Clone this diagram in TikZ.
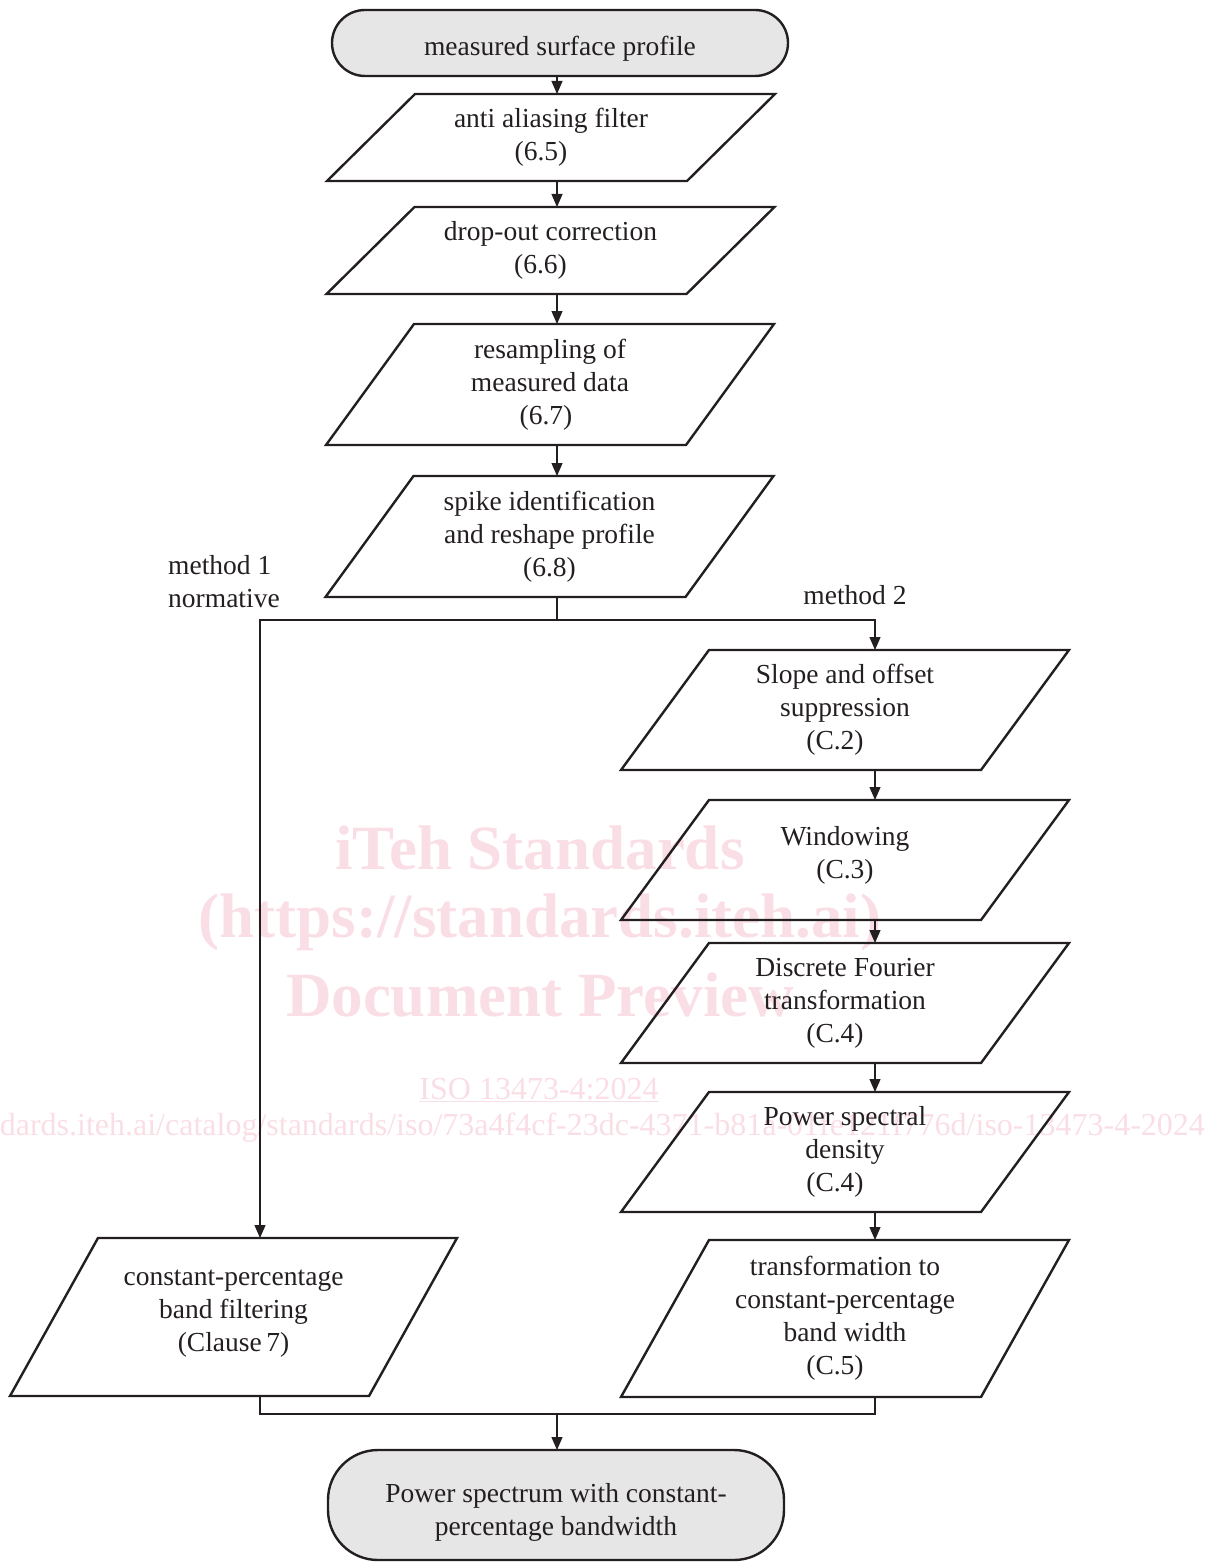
\documentclass[tikz,border=0pt]{standalone}
\usepackage{fontspec}
\setmainfont{Liberation Serif}
\usetikzlibrary{calc,arrows.meta}
\definecolor{ink}{RGB}{35,31,32}
\definecolor{termfill}{RGB}{231,230,230}
\definecolor{wm}{RGB}{250,222,229}
\newcommand\drawpara[2][88]{\draw[boxline] ($(#2.north west)+(#1,0)$) -- (#2.north east) -- ($(#2.south east)+(-#1,0)$) -- (#2.south west) -- cycle;}
\newcommand\lft[2][20pt]{#2\hspace*{#1}}
\tikzset{
  boxline/.style={draw=ink,line width=2.4pt,line join=miter},
  pbox/.style={inner sep=0pt,outer sep=0pt,align=center,text=ink,minimum width=448pt,
    font=\fontsize{27.5}{33}\selectfont},
  term/.style={draw=ink,line width=2.4pt,fill=termfill,inner sep=0pt,outer sep=0pt,align=center,text=ink,
    font=\fontsize{27.5}{33}\selectfont},
  conn/.style={draw=ink,line width=1.2pt},
  arr/.style={conn,-{Triangle[length=13pt,width=11pt]}},
  lbl/.style={text=ink,font=\fontsize{27.5}{33}\selectfont,inner sep=0pt},
  wmbig/.style={text=wm,font=\fontsize{63}{70}\bfseries\selectfont,inner sep=0pt},
  wmsmall/.style={text=wm,font=\fontsize{32}{38}\selectfont,inner sep=0pt}
}
\begin{document}
\begin{tikzpicture}[x=1pt,y=-1pt]
\useasboundingbox (0,0) rectangle (1223,1562);
% watermark
\node[wmbig] (wm1) at (540,848) {iTeh Standards};
\node[wmbig] (wm2) at (540,922) {(https://standards.iteh.ai)};
\node[wmbig] (wm3) at (540,995) {Document Preview};
\node[wmsmall] (wm4) at (539,1090) {\underline{ISO 13473-4:2024}};
\node[wmsmall,anchor=east] (wm5) at (1205,1128) {https://standards.iteh.ai/catalog/standards/iso/73a4f4cf-23dc-4371-b81a-01fe121f776d/iso-13473-4-2024};
% coordinates for connector columns
\coordinate (mx) at (557,0);
\coordinate (lx) at (260,0);
\coordinate (rx) at (875,0);
% terminals
\node[term,minimum width=456pt,minimum height=66pt,rounded corners=33pt] (top) at (560,43) {\rule{0pt}{30pt}measured surface profile};
\node[term,minimum width=456pt,minimum height=110pt,rounded corners=50pt] (bot) at (556,1505) {\rule{0pt}{33pt}Power spectrum with constant-\\percentage bandwidth};
% main column
\node[pbox,minimum height=87pt] (p1) at (551,137.5) {anti aliasing filter\\\lft{(6.5)}};
\node[pbox,minimum height=87pt] (p2) at (550.5,250.5) {drop-out correction\\\lft{(6.6)}};
\node[pbox,minimum height=121pt] (p3) at (550,384.5) {resampling of\\measured data\\\lft[8pt]{(6.7)}};
\node[pbox,minimum height=121pt] (p4) at (549.5,536.5) {spike identification\\and reshape profile\\(6.8)};
% right column
\node[pbox,minimum height=120pt] (r1) at (845,710) {Slope and offset\\suppression\\\lft{(C.2)}};
\node[pbox,minimum height=120pt] (r2) at (845,860) {Windowing\\\lft{(C.3)}\\[-17pt]};
\node[pbox,minimum height=120pt] (r3) at (845,1003) {Discrete Fourier\\transformation\\\lft{(C.4)}};
\node[pbox,minimum height=120pt] (r4) at (845,1152) {Power spectral\\density\\\lft{(C.4)}};
\node[pbox,minimum height=157pt] (r5) at (845,1318.5) {transformation to\\constant-percentage\\band width\\\lft{(C.5)}};
% left
\node[pbox,minimum height=158pt,minimum width=447pt] (lb) at (233.5,1317) {constant-percentage\\band filtering\\(Clause\,7)\\[-20pt]};
\foreach \n in {p1,p2,p3,p4,r1,r2,r3,r4,r5,lb}{\drawpara{\n}}
% labels
\node[lbl,anchor=west,align=left] (m1) at (168,582) {method 1\\normative};
\node[lbl] (m2) at (855,595) {method 2};
% connectors
\draw[arr] (top.south -| mx) -- (p1.north -| mx);
\draw[arr] (p1.south -| mx) -- (p2.north -| mx);
\draw[arr] (p2.south -| mx) -- (p3.north -| mx);
\draw[arr] (p3.south -| mx) -- (p4.north -| mx);
\coordinate (split) at (557,620);
\draw[conn] (p4.south -| mx) -- (split);
\draw[arr] (split) -| (lx |- lb.north);
\draw[arr] (split) -| (rx |- r1.north);
\draw[arr] (r1.south -| rx) -- (r2.north -| rx);
\draw[arr] (r2.south -| rx) -- (r3.north -| rx);
\draw[arr] (r3.south -| rx) -- (r4.north -| rx);
\draw[arr] (r4.south -| rx) -- (r5.north -| rx);
\coordinate (join) at (557,1414);
\draw[conn] (lb.south -| lx) |- (join);
\draw[conn] (r5.south -| rx) |- (join);
\draw[arr] (join) -- (join |- bot.north);
\end{tikzpicture}
\end{document}
